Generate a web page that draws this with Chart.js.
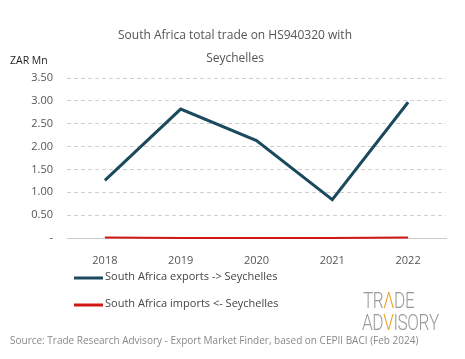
<!DOCTYPE html>
<html>
<head>
<meta charset="utf-8">
<script src="https://cdn.jsdelivr.net/npm/chart.js@4"></script>
<style>
  html, body { margin: 0; padding: 0; background: #fff; }
  #wrap { width: 465px; height: 359px; }
</style>
</head>
<body>
<div id="wrap"><canvas id="tradeChart" width="465" height="359"></canvas></div>
<script>
const years = ['2018', '2019', '2020', '2021', '2022'];
const exportsZar = [1.26, 2.82, 2.13, 0.84, 2.97];
const importsZar = [0.01, 0.0, 0.0, 0.0, 0.01];
const titleLines = ['South Africa total trade on HS940320 with', 'Seychelles'];
const legendLabels = ['South Africa exports -> Seychelles', 'South Africa imports <- Seychelles'];
const sourceText = 'Source: Trade Research Advisory - Export Market Finder, based on CEPII BACI (Feb 2024)';

const FONT = '"Open Sans", "Noto Sans", sans-serif';
const exportColor = '#1b4a5e';
const importColor = '#d01818';

// titles, unit label, legend, source and logo drawn around the plot
const decorations = {
  id: 'decorations',
  afterDraw(chart) {
    const c = chart.ctx;
    c.save();
    c.textBaseline = 'middle';

    c.fillStyle = '#555';
    c.font = '12px ' + FONT;
    c.textAlign = 'center';
    c.fillText(titleLines[0], 235, 36);
    c.fillText(titleLines[1], 235, 59);

    c.fillStyle = '#222';
    c.font = '10.5px ' + FONT;
    c.textAlign = 'left';
    c.fillText('ZAR Mn', 10, 61);

    // legend
    const colors = [exportColor, importColor];
    const ys = [278, 305];
    c.font = '11px ' + FONT;
    c.fillStyle = '#444';
    ys.forEach((y, i) => {
      c.strokeStyle = colors[i];
      c.lineWidth = 3;
      c.beginPath();
      c.moveTo(74, y);
      c.lineTo(103, y);
      c.stroke();
      c.fillText(legendLabels[i], 105, y - 1);
    });

    // source
    c.fillStyle = '#888';
    c.font = '10px ' + FONT;
    c.fillText(sourceText, 10, 341, 446);

    // logo
    const drawWord = (letters, x, y) => {
      c.save();
      c.translate(x, y);
      c.scale(0.78, 1);
      let cx = 0;
      letters.forEach(([ch, col]) => {
        c.fillStyle = col;
        c.fillText(ch, cx, 0);
        cx += c.measureText(ch).width - 0.5;
      });
      c.restore();
    };
    c.font = '300 22px Roboto, sans-serif';
    c.textBaseline = 'alphabetic';
    const grey = '#9a9a9a', orange = '#e8a020';
    drawWord([['T', grey], ['R', grey], ['Λ', orange], ['D', grey], ['E', grey]], 363, 308);
    drawWord([['A', grey], ['D', grey], ['V', orange], ['I', grey], ['S', grey], ['O', grey], ['R', grey], ['Y', grey]], 362, 330);
    c.restore();
  }
};

const ctx = document.getElementById('tradeChart').getContext('2d');
const tradeChart = new Chart(ctx, {
  type: 'line',
  data: {
    labels: years,
    datasets: [
      {
        label: legendLabels[0],
        data: exportsZar,
        borderColor: exportColor,
        borderWidth: 3,
        pointRadius: 0,
        tension: 0
      },
      {
        label: legendLabels[1],
        data: importsZar,
        borderColor: importColor,
        borderWidth: 2,
        pointRadius: 0,
        tension: 0,
        clip: false
      }
    ]
  },
  options: {
    responsive: false,
    animation: false,
    layout: { padding: { top: 78, right: 19, bottom: 91, left: 0 } },
    scales: {
      x: {
        offset: true,
        grid: { display: false },
        border: { display: true, color: '#cccccc', width: 1 },
        ticks: { color: '#555', font: { family: FONT, size: 11 }, padding: 8 },
        afterFit(scale) { scale.height = 30; }
      },
      y: {
        min: 0,
        max: 3.5,
        ticks: {
          stepSize: 0.5,
          color: '#555',
          font: { family: FONT, size: 11 },
          padding: 14,
          callback: v => v === 0 ? '-' : v.toFixed(2)
        },
        grid: { color: '#cfcfcf', drawTicks: false, borderDash: [4, 3] },
        border: { display: false, dash: [4, 3] },
        afterFit(scale) { scale.width = 67; }
      }
    },
    plugins: {
      legend: { display: false },
      title: { display: false },
      tooltip: { enabled: false }
    }
  },
  plugins: [decorations]
});
</script>
</body>
</html>
